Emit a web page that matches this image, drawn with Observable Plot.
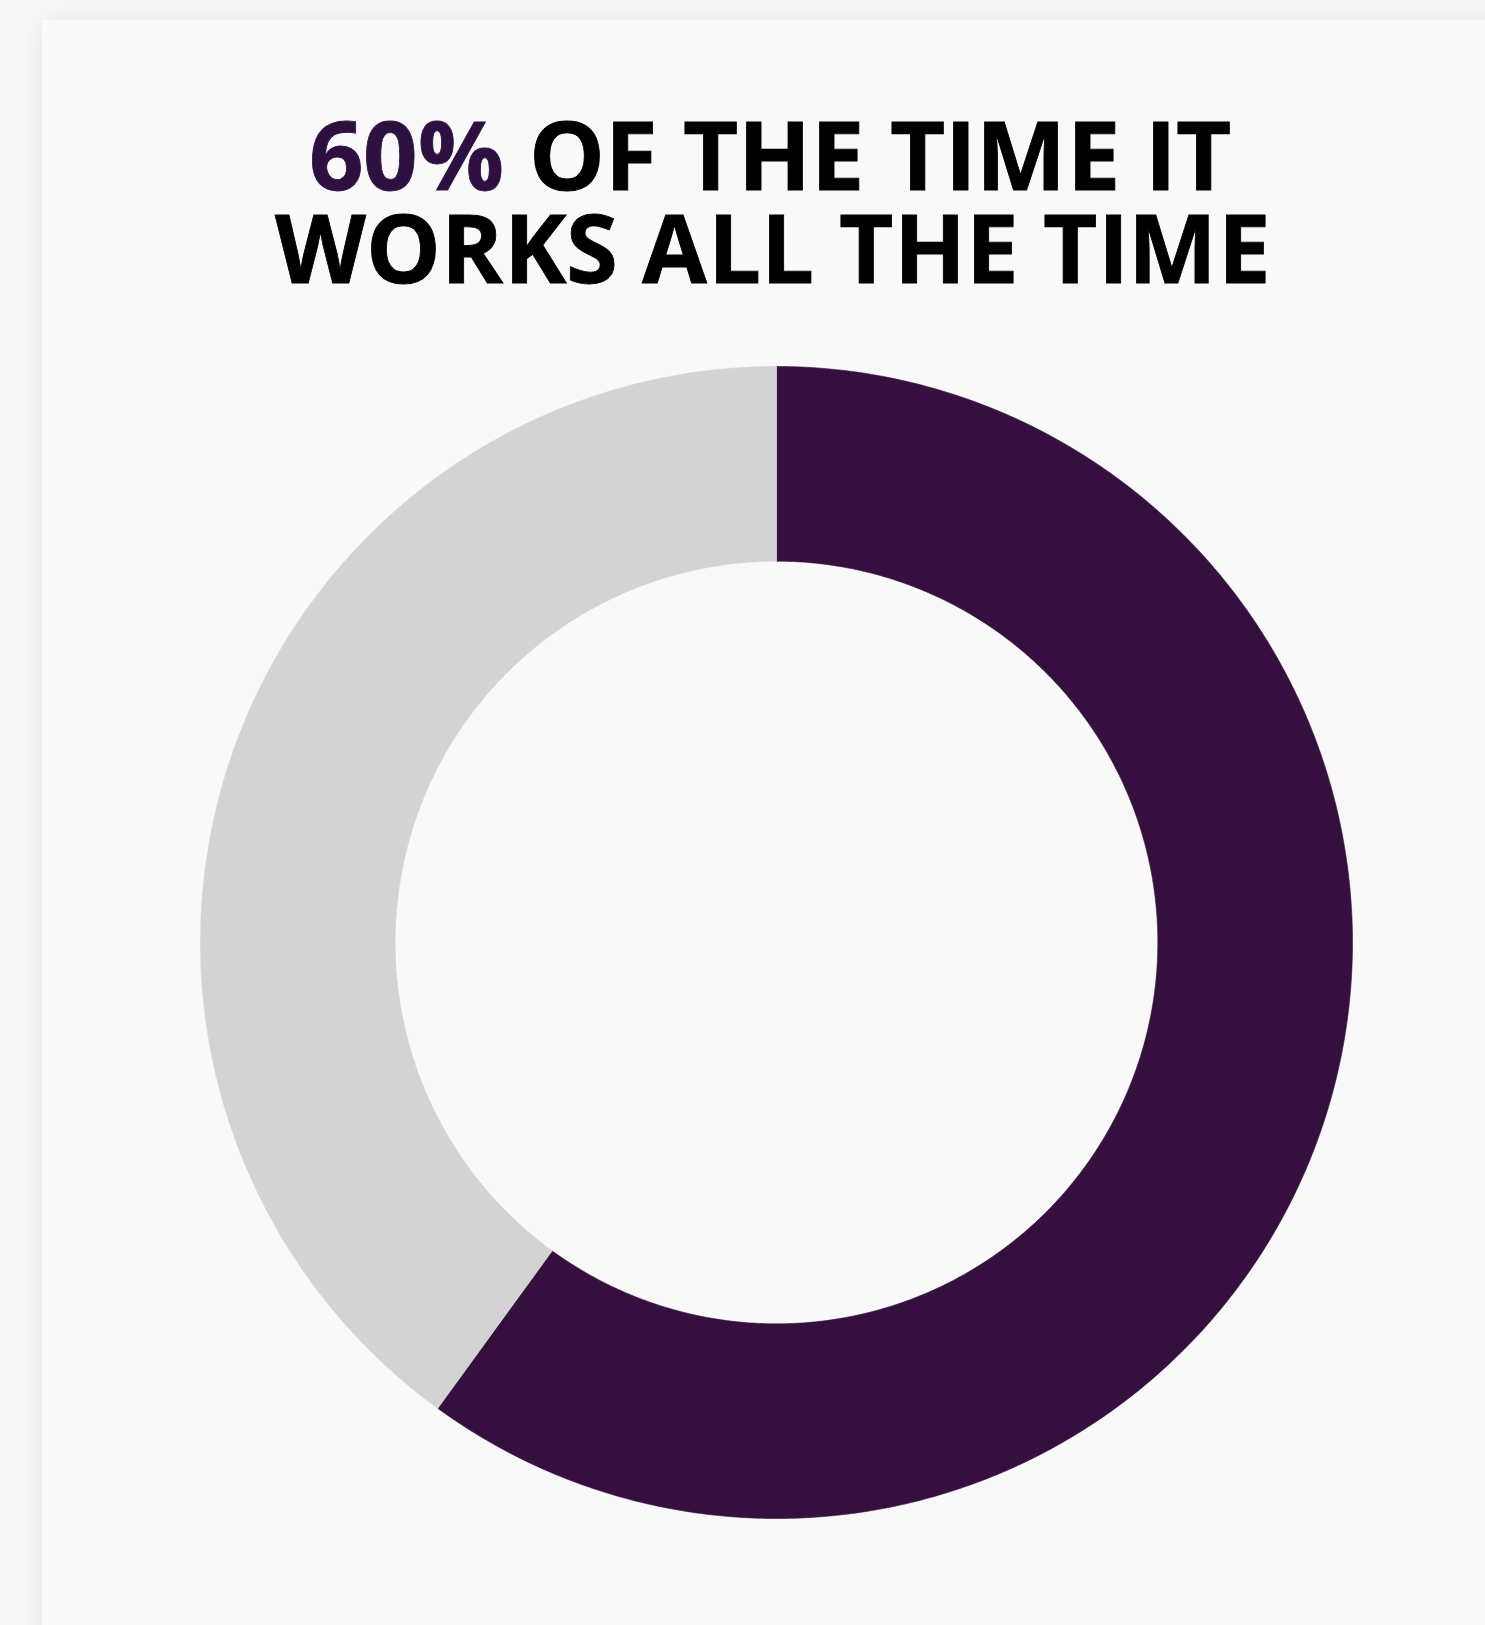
<!DOCTYPE html>
<html>
<head>
<meta charset="utf-8">
<script src="https://cdn.jsdelivr.net/npm/d3@7"></script>
<script src="https://cdn.jsdelivr.net/npm/@observablehq/plot@0.6"></script>
<style>
  @font-face {
    font-family: "TitleSans";
    src: local("Open Sans Bold"), local("OpenSans-Bold"), local("Open Sans");
    font-weight: 700;
    ascent-override: 76%;
    descent-override: 4%;
    line-gap-override: 0%;
  }
  html, body { margin: 0; padding: 0; width: 1485px; height: 1625px; overflow: hidden; background: #f7f7f7; }
  #panel { position: absolute; left: 42px; top: 20px; width: 1500px; height: 1700px; background: #f9f9f9;
           box-shadow: 0 0 28px rgba(0,0,0,0.07); }
  .tpart { position: absolute; white-space: nowrap; font-family: "TitleSans", "Open Sans", sans-serif;
           font-weight: 700; font-size: 95px; line-height: 80px; color: #000; transform-origin: 0 0;
           -webkit-text-stroke: 0.8px currentColor; }
  #t1a { color: #2e1040; }
  #chart { position: absolute; left: 0; top: 340px; }
</style>
</head>
<body>
<div id="panel"></div>
<div class="tpart" id="t1a">60%</div>
<div class="tpart" id="t1b">OF THE TIME IT</div>
<div class="tpart" id="t2">WORKS ALL THE TIME</div>
<div id="chart"></div>
<script>
// Data
const segments = ["Works", "Doesn't work"];
const shares = [60, 40];
const colors = ["#35103f", "#d3d3d3"];

// Title layout: each line fitted to the reference width and centred
const fs = 95, lh = 80, asc = 0.76, desc = 0.04;
const baseOff = (lh - (asc + desc) * fs) / 2 + asc * fs;
const spaceW = fs * 0.26;
const lines = [
  {ids: ["t1a", "t1b"], w: 922, cx: 770, baseline: 190},
  {ids: ["t2"], w: 995, cx: 772.5, baseline: 283}
];
for (const line of lines) {
  const els = line.ids.map(id => document.getElementById(id));
  const ws = els.map(el => el.getBoundingClientRect().width);
  const natural = d3.sum(ws) + spaceW * (els.length - 1);
  const k = line.w / natural;
  let x = line.cx - line.w / 2;
  els.forEach((el, i) => {
    el.style.top = (line.baseline - baseOff) + "px";
    el.style.left = x + "px";
    el.style.transform = `scaleX(${k})`;
    x += (ws[i] + spaceW) * k;
  });
}

// Build ring slice outlines (angles clockwise from 12 o'clock)
const inner = 0.662, outer = 1;
const total = d3.sum(shares);
const pts = [];
let acc = 0;
segments.forEach((s, i) => {
  const a0 = (acc / total) * 2 * Math.PI;
  acc += shares[i];
  const a1 = (acc / total) * 2 * Math.PI;
  const n = Math.max(2, Math.ceil((a1 - a0) / (Math.PI / 360)));
  for (let j = 0; j <= n; j++) {
    const a = a0 + (a1 - a0) * j / n;
    pts.push({segment: s, x: outer * Math.sin(a), y: outer * Math.cos(a)});
  }
  for (let j = n; j >= 0; j--) {
    const a = a0 + (a1 - a0) * j / n;
    pts.push({segment: s, x: inner * Math.sin(a), y: inner * Math.cos(a)});
  }
});

const plot = Plot.plot({
  width: 1485,
  height: 1200,
  marginLeft: 200,
  marginRight: 133,
  marginTop: 26,
  marginBottom: 22,
  style: {background: "transparent"},
  x: {domain: [-1, 1], axis: null},
  y: {domain: [-1, 1], axis: null},
  color: {domain: segments, range: colors},
  marks: [
    Plot.line(pts, {x: "x", y: "y", z: "segment", fill: "segment", stroke: "segment", strokeWidth: 0.6, curve: "linear"})
  ]
});
document.getElementById("chart").appendChild(plot);
</script>
</body>
</html>
